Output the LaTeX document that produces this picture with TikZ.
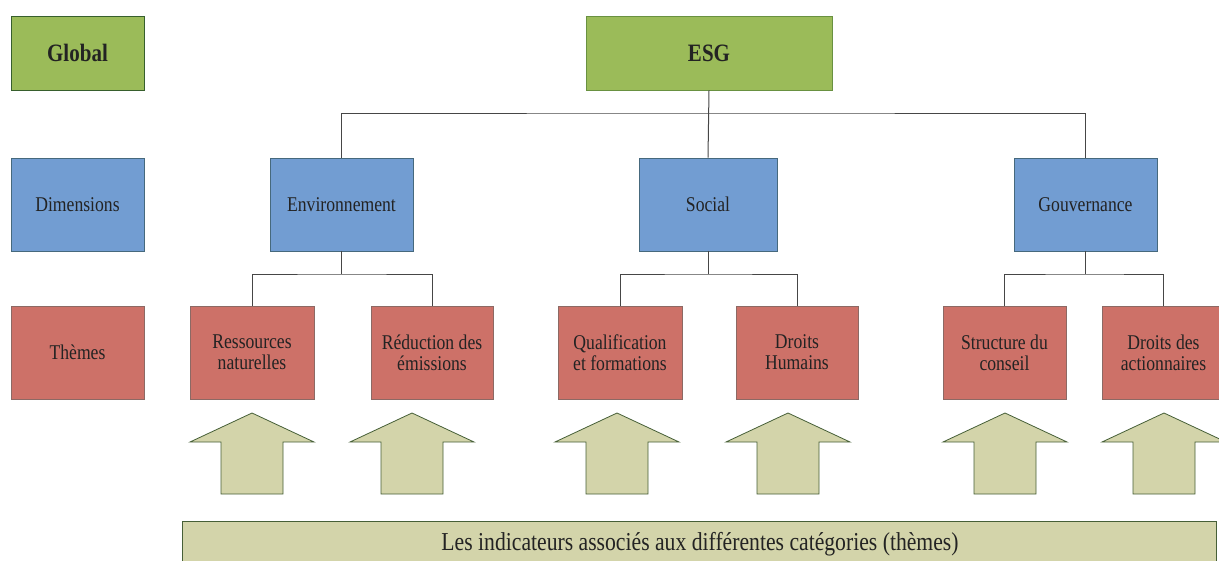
\documentclass[tikz,border=0pt]{standalone}
\usepackage{fontspec}
\setmainfont{Liberation Serif}
\newfontfamily\condfont[FakeStretch=0.84]{Liberation Serif}
\definecolor{gfill}{RGB}{155,187,89}
\definecolor{gdark}{RGB}{55,95,45}
\definecolor{glight}{RGB}{105,145,65}
\definecolor{bfill}{RGB}{114,157,210}
\definecolor{bline}{RGB}{70,105,125}
\definecolor{rfill}{RGB}{205,113,104}
\definecolor{rline}{RGB}{140,105,100}
\definecolor{afill}{RGB}{211,212,170}
\definecolor{aline}{RGB}{70,95,55}
\definecolor{conn}{RGB}{70,70,70}
\definecolor{txt}{RGB}{35,35,35}
\begin{document}
\begin{tikzpicture}[x=1pt,y=-1pt,
  basebox/.style={draw, line width=0.8pt, inner sep=0pt, align=center, text=txt},
  greenbox/.style={basebox, fill=gfill, minimum height=74pt, font=\condfont\bfseries\fontsize{25}{27}\selectfont},
  bluebox/.style={basebox, fill=bfill, draw=bline, minimum height=93pt, font=\condfont\fontsize{21}{21}\selectfont},
  redbox/.style={basebox, fill=rfill, draw=rline, minimum height=93pt, font=\condfont\fontsize{21}{21}\selectfont},
  link/.style={draw=conn, line width=1pt},
  bigarrow/.style={draw=aline, fill=afill, line width=0.8pt, line join=miter}
]
\useasboundingbox (0,0) rectangle (1219,560);
\clip (0,0) rectangle (1219,560);

% level labels
\node[greenbox, draw=gdark, minimum width=133pt] (global) at (77.5,53) {Global};
\node[bluebox, minimum width=133pt] (dims) at (77.5,204.5) {Dimensions};
\node[redbox, minimum width=133pt] (themes) at (77.5,352.5) {Thèmes};

% tree
\node[greenbox, draw=glight, minimum width=246pt] (esg) at (709,53) {ESG};
\node[bluebox, minimum width=143pt] (env) at (341.5,204.5) {Environnement};
\node[bluebox, minimum width=138pt] (soc) at (708,204.5) {Social};
\node[bluebox, minimum width=143pt] (gov) at (1085.5,204.5) {Gouvernance};

\node[redbox, minimum width=124pt] (res) at (252,352.5) {Ressources\\naturelles};
\node[redbox, minimum width=122pt] (red) at (432,352.5) {Réduction des\\émissions};
\node[redbox, minimum width=124pt] (qual) at (620,352.5) {Qualification\\et formations};
\node[redbox, minimum width=122pt] (dh) at (797,352.5) {Droits\\Humains};
\node[redbox, minimum width=123pt] (struc) at (1004.5,352.5) {Structure du\\conseil};
\node[redbox, minimum width=123pt] (act) at (1163.5,352.5) {Droits des\\actionnaires};

% connectors
\coordinate (bus0) at (708,113);
\coordinate (busE) at (341.5,274);
\coordinate (busS) at (708,274);
\coordinate (busG) at (1085.5,274);
\draw[link] (esg.south) -- (soc.north);
\draw[link] (env.north) |- (bus0) -| (gov.north);
\draw[link] (env.south) -- (busE);
\draw[link] (res.north) |- (busE) -| (red.north);
\draw[link] (soc.south) -- (busS);
\draw[link] (qual.north) |- (busS) -| (dh.north);
\draw[link] (gov.south) -- (busG);
\draw[link] (struc.north) |- (busG) -| (act.north);

% up arrows
\foreach \cx in {252,412,617,788,1005,1164}{
  \draw[bigarrow] (\cx,413) -- (\cx+62,442) -- (\cx+31,442) -- (\cx+31,494)
    -- (\cx-31,494) -- (\cx-31,442) -- (\cx-62,442) -- cycle;
}

% bottom band
\node[draw=aline, fill=afill, line width=0.8pt, minimum width=1034pt, minimum height=50pt, inner sep=0pt, anchor=north west] (band) at (182,521) {};
\node[text=txt, font=\condfont\fontsize{25.8}{27}\selectfont] (bandtxt) at (700,544) {Les indicateurs associés aux différentes catégories (thèmes)};
\end{tikzpicture}
\end{document}
